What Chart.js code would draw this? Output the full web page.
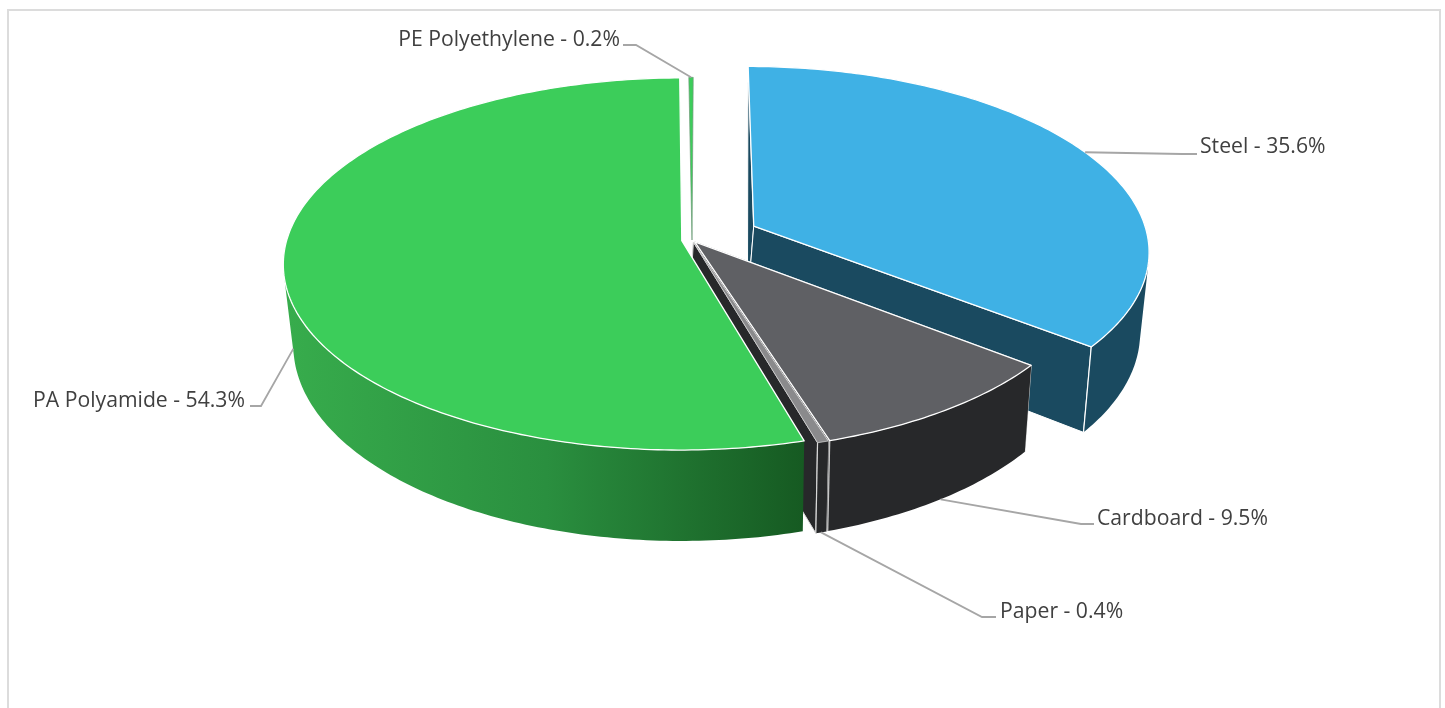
<!DOCTYPE html>
<html>
<head>
<meta charset="utf-8">
<style>
  html, body { margin: 0; padding: 0; background: #fff; overflow: hidden; }
  #frame { position: absolute; left: 7px; top: 9px; width: 1430px; height: 720px; border: 2px solid #dcdcdc; }
  #chart { position: absolute; left: 0; top: 0; }
</style>
<script src="https://cdn.jsdelivr.net/npm/chart.js@4"></script>
</head>
<body>
<div id="frame"></div>
<canvas id="chart" width="1445" height="708"></canvas>
<script>
const materials = ['Steel', 'Cardboard', 'Paper', 'PA Polyamide', 'PE Polyethylene'];
const shares = [35.6, 9.5, 0.4, 54.3, 0.2];

const topColors = ['#3fb1e5', '#5f6064', '#8a8a8c', '#3ccd5a', '#3ccd5a'];
const wallColors = ['#1a4a60', '#27282a', '#27282a', '#2a9a43', '#2a9a43'];
const rimEdges = ['#ffffff', '#c8c8c8', '#d8d8d8', null, null];
const topEdges = ['#ffffff', '#ffffff', '#d8d8d8', '#ffffff', '#6f9a78'];
const explode = [57, 4, 4, 8.5, 0];

// draw order, back to front
const drawOrder = [0, 4, 1, 2, 3];

// leader line knee and label position for each slice
const leaderLayout = [
  { rim: 'top', knee: [1182, 154], end: [1197, 154], text: [1200, 147], align: 'left' },
  { rim: 'bottom', knee: [1081, 524], end: [1094, 524], text: [1097, 519], align: 'left' },
  { rim: 'bottom', knee: [982, 617], end: [996, 617], text: [1000, 612], align: 'left' },
  { rim: 'bottom', knee: [261, 406], end: [250, 406], text: [245, 401], align: 'right' },
  { rim: 'top', knee: [636, 45], end: [623, 45], text: [620, 40], align: 'right' }
];

// view of the tilted disc
const OX = 692, OY = 240, RX = 395, RC = 183, P = 0.125;
const BASE_Y = 320, BASE_R = 220, VANISH_X = 740;

function projectTop(X, Y) {
  const w = 1 + P * Y;
  return [OX + RX * X / w, OY - RC * Y / w];
}

function projectBottom(X, Y) {
  const sx = projectTop(X, Y)[0];
  const bend = Y < 0 ? 30 * Y * (Y + 1) : 0;
  return [sx + (VANISH_X - sx) * 0.022, BASE_Y - BASE_R * Y + bend];
}

function arcPoints(el, project) {
  const e = el.options.offset / el.outerRadius;
  const mid = (el.startAngle + el.endAngle) / 2;
  const ex = Math.cos(mid) * e, ey = -Math.sin(mid) * e;
  const n = Math.max(2, Math.ceil((el.endAngle - el.startAngle) / 0.015));
  const pts = [];
  for (let i = 0; i <= n; i++) {
    const a = el.startAngle + (el.endAngle - el.startAngle) * i / n;
    pts.push(project(ex + Math.cos(a), ey - Math.sin(a)));
  }
  return { pts, apex: project(ex, ey) };
}

function polygon(ctx, pts, fill, stroke, width) {
  ctx.beginPath();
  pts.forEach((p, i) => i ? ctx.lineTo(p[0], p[1]) : ctx.moveTo(p[0], p[1]));
  ctx.closePath();
  ctx.fillStyle = fill;
  ctx.fill();
  if (stroke) {
    ctx.strokeStyle = stroke;
    ctx.lineWidth = width;
    ctx.lineJoin = 'round';
    ctx.stroke();
  }
}

function segment(ctx, a, b, color, width) {
  ctx.beginPath();
  ctx.moveTo(a[0], a[1]);
  ctx.lineTo(b[0], b[1]);
  ctx.strokeStyle = color;
  ctx.lineWidth = width;
  ctx.stroke();
}

function area(q) {
  let s = 0;
  q.forEach((p, i) => {
    const n = q[(i + 1) % q.length];
    s += p[0] * n[1] - n[0] * p[1];
  });
  return s;
}

// rim is one path of quads, all wound the same way, so it has no seams
function fillRim(ctx, top, bot, fill) {
  ctx.beginPath();
  for (let k = 0; k < top.length - 1; k++) {
    // back half of the rim is behind the top face anyway
    if (top[k][1] < OY && top[k + 1][1] < OY) continue;
    let q = [top[k], top[k + 1], bot[k + 1], bot[k]];
    if (area(q) < 0) q = q.reverse();
    q.forEach((p, i) => i ? ctx.lineTo(p[0], p[1]) : ctx.moveTo(p[0], p[1]));
    ctx.closePath();
  }
  ctx.fillStyle = fill;
  ctx.fill('nonzero');
}

const pie3d = {
  id: 'pie3d',
  beforeDatasetsDraw(chart) {
    const ctx = chart.ctx;
    const arcs = chart.getDatasetMeta(0).data;
    ctx.save();
    drawOrder.forEach(i => {
      const el = arcs[i];
      const top = arcPoints(el, projectTop);
      const bot = arcPoints(el, projectBottom);
      const apexLow = [bot.apex[0] - 6, bot.apex[1]];
      const last = top.pts.length - 1;
      const edge = rimEdges[i];

      // PA and PE show only top and rim, their cut faces stay hidden
      if (edge) {
        polygon(ctx, [top.apex, top.pts[0], bot.pts[0], apexLow], wallColors[i], edge, 1);
        polygon(ctx, [top.apex, top.pts[last], bot.pts[last], apexLow], wallColors[i], edge, 1);
      }

      let wall = wallColors[i];
      if (materials[i] === 'PA Polyamide') {
        const g = ctx.createLinearGradient(288, 0, 804, 0);
        g.addColorStop(0, '#37ac4c');
        g.addColorStop(0.5, '#2a8f3f');
        g.addColorStop(1, '#165a22');
        wall = g;
      }
      if (materials[i] !== 'PE Polyethylene') fillRim(ctx, top.pts, bot.pts, wall);
      if (edge) {
        segment(ctx, top.pts[last], bot.pts[last], edge, 1.2);
      }
      polygon(ctx, [top.apex].concat(top.pts), el.options.backgroundColor, topEdges[i], shares[i] < 1 ? 0.7 : 1.3);
    });
    ctx.restore();
    return false;
  },
  // afterDatasetsDraw is skipped once the default arcs are cancelled
  afterDraw(chart) {
    const ctx = chart.ctx;
    const arcs = chart.getDatasetMeta(0).data;
    ctx.save();
    ctx.font = '21.2px "Open Sans"';
    ctx.textBaseline = 'middle';
    arcs.forEach((el, i) => {
      const lay = leaderLayout[i];
      const e = el.options.offset / el.outerRadius;
      const mid = (el.startAngle + el.endAngle) / 2;
      const X = Math.cos(mid) * (1 + e), Y = -Math.sin(mid) * (1 + e);
      const from = lay.rim === 'top' ? projectTop(X, Y) : projectBottom(X, Y);
      ctx.beginPath();
      ctx.moveTo(from[0], from[1]);
      ctx.lineTo(lay.knee[0], lay.knee[1]);
      ctx.lineTo(lay.end[0], lay.end[1]);
      ctx.strokeStyle = '#a6a6a6';
      ctx.lineWidth = 1.8;
      ctx.stroke();
      ctx.fillStyle = '#404040';
      ctx.textAlign = lay.align;
      ctx.fillText(materials[i] + ' - ' + shares[i] + '%', lay.text[0], lay.text[1]);
    });
    ctx.restore();
  }
};

new Chart(document.getElementById('chart').getContext('2d'), {
  type: 'pie',
  data: {
    labels: materials,
    datasets: [{
      data: shares,
      backgroundColor: topColors,
      borderWidth: 0,
      offset: explode
    }]
  },
  options: {
    responsive: false,
    animation: false,
    rotation: 0.2,
    plugins: { legend: { display: false }, tooltip: { enabled: false } }
  },
  plugins: [pie3d]
});
</script>
</body>
</html>
